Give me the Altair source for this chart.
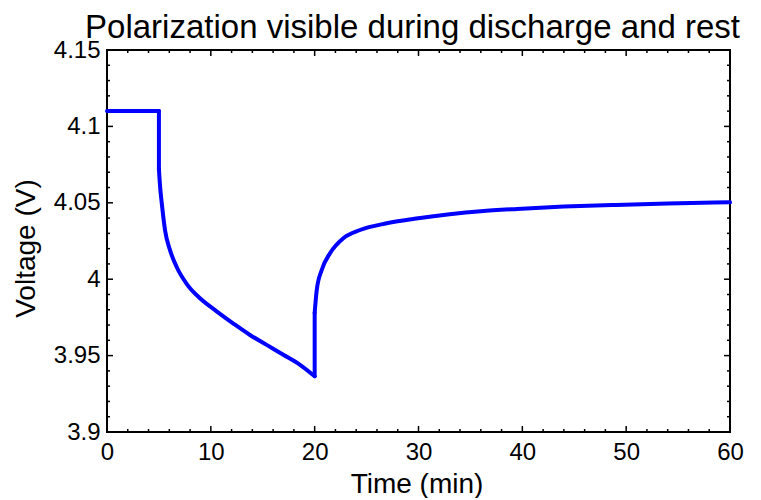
import altair as alt
import pandas as pd

# ---- data (boundary points repeated per segment) ----
time_min = [0, 5,
            5, 5,
            5, 5.12, 5.27, 5.59, 6.07, 6.71, 7.67, 8.96, 10.56, 12.17, 13.77,
            15.38, 16.98, 18.59, 20.0,
            20.0, 20.0,
            20.0, 20.2, 20.68, 21.48, 22.76, 24.37, 26.94, 29.98, 33, 36,
            39.5, 44, 49, 54, 60]
voltage = [4.110, 4.110,
           4.110, 4.072,
           4.072, 4.060, 4.050, 4.032, 4.019, 4.008, 3.997, 3.9875, 3.979, 3.971,
           3.9635, 3.957, 3.9505, 3.944, 3.9365,
           3.9365, 3.978,
           3.978, 3.993, 4.006, 4.017, 4.0268, 4.0322, 4.0366, 4.0399, 4.0425,
           4.0445, 4.046, 4.0475, 4.0486, 4.0495, 4.0503]
segment = (["rest"] * 2 + ["step"] * 2 + ["discharge"] * 15 + ["jump"] * 2
           + ["relax"] * 15)

x_major = [0, 10, 20, 30, 40, 50, 60]
x_minor = [2, 4, 6, 8, 12, 14, 16, 18, 22, 24, 26, 28, 32, 34, 36, 38,
           42, 44, 46, 48, 52, 54, 56, 58]
y_major = [3.9, 3.95, 4.0, 4.05, 4.1, 4.15]
y_minor = [3.91, 3.92, 3.93, 3.94, 3.96, 3.97, 3.98, 3.99, 4.01, 4.02, 4.03,
           4.04, 4.06, 4.07, 4.08, 4.09, 4.11, 4.12, 4.13, 4.14]

W, H = 623, 382
FONT = "Liberation Sans"
MAJ, MIN = 6, 3

df = pd.DataFrame({"t": time_min, "v": voltage, "seg": segment,
                   "i": list(range(len(time_min)))})

xs = alt.Scale(domain=[0, 60], nice=False, zero=False)
ys = alt.Scale(domain=[3.9, 4.15], nice=False, zero=False)

x_axis = alt.Axis(
    values=x_major, title="Time (min)", ticks=False, domain=False, grid=False,
    labelFont=FONT, labelFontSize=24, labelColor="black", labelPadding=8,
    labelFlush=False, titleFont=FONT, titleFontSize=28, titleFontWeight="normal",
    titleColor="black", titleX=W / 2 - 2, titleY=60, titleBaseline="alphabetic",
    titleAlign="center")
y_axis = alt.Axis(
    values=y_major, format="~g", title="Voltage (V)", ticks=False, domain=False,
    grid=False, labelFont=FONT, labelFontSize=24, labelColor="black",
    labelPadding=7, labelFlush=False, titleFont=FONT, titleFontSize=28,
    titleFontWeight="normal", titleColor="black", titleX=-73, titleY=198,
    titleBaseline="alphabetic", titleAlign="center", titleAngle=270)

line = alt.Chart(df).mark_line(color="#0000ff", strokeWidth=4, strokeCap="round",
                               interpolate="monotone").encode(
    x=alt.X("t:Q", scale=xs, axis=x_axis),
    y=alt.Y("v:Q", scale=ys, axis=y_axis),
    detail="seg:N",
    order="i:Q",
)


def xticks(vals, length):
    d = pd.DataFrame({"t": vals})
    base = alt.Chart(d).mark_rule(color="black", strokeWidth=1.5)
    bottom = base.encode(x=alt.X("t:Q", scale=xs, axis=x_axis),
                         y=alt.value(H), y2=alt.value(H - length))
    top = base.encode(x=alt.X("t:Q", scale=xs, axis=x_axis),
                      y=alt.value(0), y2=alt.value(length))
    return [bottom, top]


def yticks(vals, length):
    d = pd.DataFrame({"v": vals})
    base = alt.Chart(d).mark_rule(color="black", strokeWidth=1.5)
    left = base.encode(y=alt.Y("v:Q", scale=ys, axis=y_axis),
                       x=alt.value(0), x2=alt.value(length))
    right = base.encode(y=alt.Y("v:Q", scale=ys, axis=y_axis),
                        x=alt.value(W), x2=alt.value(W - length))
    return [left, right]


layers = (xticks(x_major, MAJ) + xticks(x_minor, MIN) + yticks(y_major, MAJ)
          + yticks(y_minor, MIN) + [line])

chart = alt.layer(*layers).properties(
    width=W, height=H,
    title=alt.TitleParams("Polarization visible during discharge and rest",
                          font=FONT, fontSize=33, fontWeight="normal", color="black",
                          anchor="middle", offset=5, baseline="alphabetic",
                          dy=38, dx=-6),
    padding={"left": 99, "top": 42, "right": 22, "bottom": 66},
    autosize=alt.AutoSizeParams(type="none"),
).configure(background="white").configure_view(stroke="black", strokeWidth=2)

chart.save("out.html", embed_options={"renderer": "svg", "actions": False})
